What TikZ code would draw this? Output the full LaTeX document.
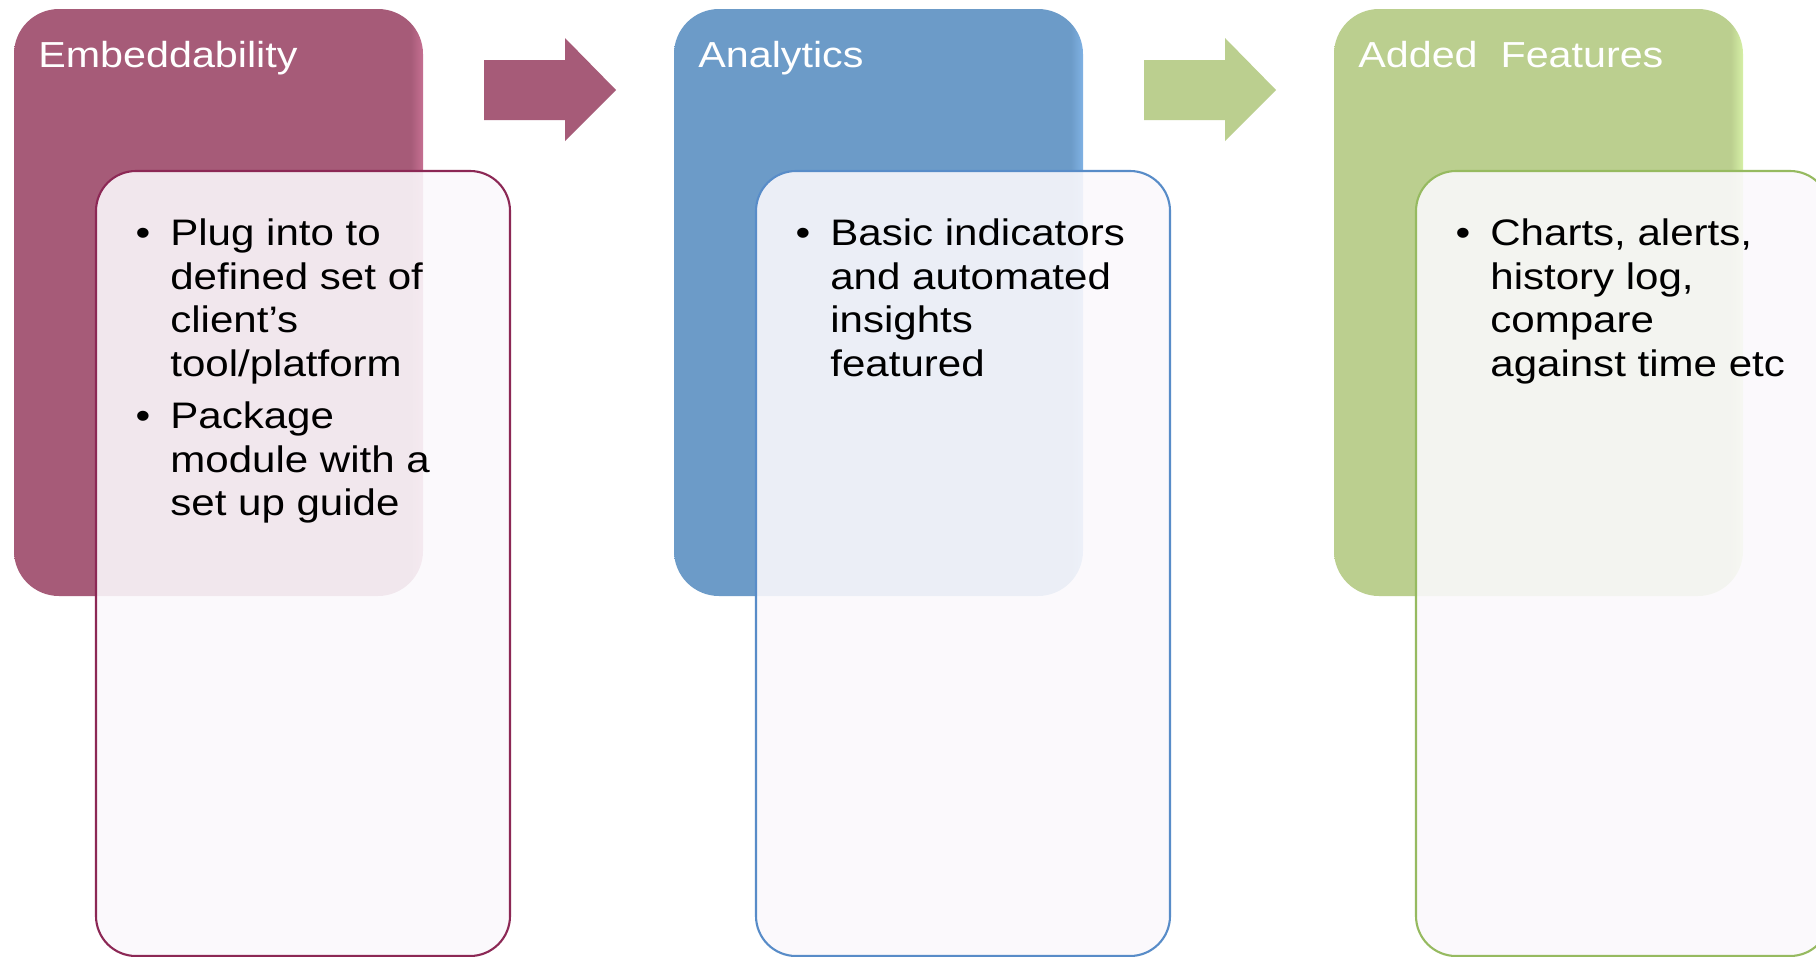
\documentclass[tikz,border=0pt]{standalone}
\usepackage{fontspec}
\setmainfont{Liberation Sans}[FakeStretch=1.14]

\definecolor{pinkback}{RGB}{166,91,120}
\definecolor{pinklite}{RGB}{198,112,146}
\definecolor{pinkedge}{RGB}{140,40,85}
\definecolor{blueback}{RGB}{108,155,200}
\definecolor{bluelite}{RGB}{128,178,228}
\definecolor{blueedge}{RGB}{88,140,200}
\definecolor{greenback}{RGB}{187,207,143}
\definecolor{greenlite}{RGB}{214,240,166}
\definecolor{greenedge}{RGB}{150,186,96}
\definecolor{cardfill}{RGB}{251,249,252}

\pgfdeclarehorizontalshading{glow0}{100bp}{color(0bp)=(pinkback); color(73.5bp)=(pinkback); color(75bp)=(pinklite); color(100bp)=(pinklite)}
\pgfdeclarehorizontalshading{glow1}{100bp}{color(0bp)=(blueback); color(73.5bp)=(blueback); color(75bp)=(bluelite); color(100bp)=(bluelite)}
\pgfdeclarehorizontalshading{glow2}{100bp}{color(0bp)=(greenback); color(73.5bp)=(greenback); color(75bp)=(greenlite); color(100bp)=(greenlite)}

\begin{document}
\begin{tikzpicture}[x=0.02cm, y=-0.02cm,
  backbox/.style={rounded corners=0.9cm},
  card/.style={rounded corners=0.8cm, line width=1.2pt, fill=cardfill, fill opacity=0.89},
  head/.style={white, font=\fontsize{20.6}{25}\selectfont, inner sep=0pt, anchor=base west},
  item/.style={font=\fontsize{21}{25}\selectfont, align=left, inner sep=0pt, anchor=north west},
  dot/.style={font=\fontsize{21}{25}\selectfont, inner sep=0pt, anchor=north}]
  \fill[white] (0,0) rectangle (1816,957);
  \clip (0,0) rectangle (1816,957);
  % three steps: coloured tab with a card over it
  \foreach \i/\ed/\t in {0/pinkedge/Embeddability, 1/blueedge/Analytics, 2/greenedge/Added\ \ Features} {
    \shade[backbox, shading=glow\i] (14+660*\i,9) rectangle ++(409,587);
    \draw[card, draw=\ed] (96+660*\i,171) rectangle ++(414,785);
    \node[head] (head\i) at (38+660*\i,67) {\t};
  }
  % block arrows between the steps
  \foreach \i/\bk in {0/pinkback, 1/greenback}
    \fill[\bk] (484+660*\i,60) -- ++(81,0) -- ++(0,-22) -- ++(51,52)
      -- ++(-51,51) -- ++(0,-21) -- ++(-81,0) -- cycle;

  \node[dot] (dotplug) at (143,214) {\strut•};
  \node[item] (plug) at (170,214) {\strut Plug into to\\defined set of\\client’s\\tool/platform};
  \node[dot] (dotpackage) at (143,397) {\strut•};
  \node[item] (package) at (170,397) {\strut Package\\module with a\\set up guide};
  \node[dot] (dotbasic) at (803,214) {\strut•};
  \node[item] (basic) at (830,214) {\strut Basic indicators\\and automated\\insights\\featured};
  \node[dot] (dotcharts) at (1463,214) {\strut•};
  \node[item] (charts) at (1490,214) {\strut Charts, alerts,\\history log,\\compare\\against time etc};
\end{tikzpicture}
\end{document}
